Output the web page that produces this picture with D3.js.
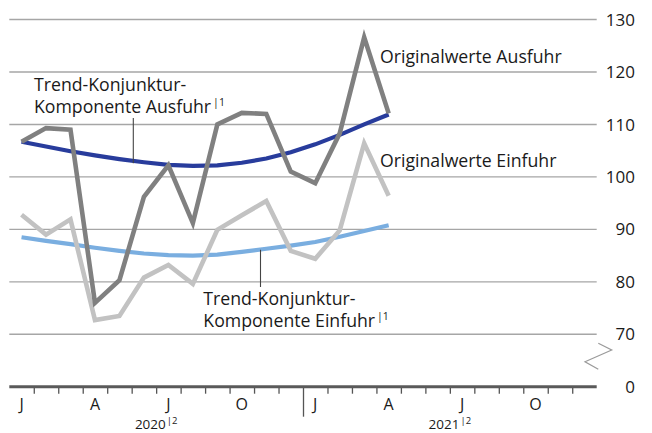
<!DOCTYPE html>
<html><head><meta charset="utf-8">
<script src="https://cdn.jsdelivr.net/npm/d3@7"></script>
<style>
html,body{margin:0;padding:0;background:#fff;}
svg{display:block;}
text{font-family:"Open Sans",sans-serif;fill:#1a1a1a;}
</style></head>
<body><svg id="c" width="652" height="433"></svg>
<script>
// ---- data (Jan 2020 .. Apr 2021) ----
const monthIndex = d3.range(16);
const ausfuhrOriginal = [106.7,109.3,109.0,76.0,80.3,96.2,102.2,91.2,110.0,112.2,112.0,101.0,98.8,108.3,126.6,112.1];
const einfuhrOriginal = [92.8,89.0,91.9,72.7,73.5,80.8,83.2,79.6,89.9,92.7,95.4,85.9,84.4,89.8,106.4,96.4];
const ausfuhrTrend = [106.7,105.8,104.9,104.1,103.4,102.8,102.3,102.1,102.2,102.7,103.5,104.7,106.2,108.0,110.0,111.9];
const einfuhrTrend = [88.5,87.8,87.2,86.5,85.9,85.4,85.1,85.0,85.2,85.7,86.3,86.9,87.6,88.6,89.7,90.8];
const yTicks = [70,80,90,100,110,120,130];
const monthLabels = ["J","A","J","O","J","A","J","O"];
const monthLabelPos = [0,3,6,9,12,15,18,21];
const years = ["2020","2021"];
const totalMonths = 24;

const svg = d3.select("#c");
const x = d3.scaleLinear().domain([0,totalMonths]).range([9.3,596.7]);
const y = d3.scaleLinear().domain([70,130]).range([334.3,19.5]);
const baseY = 386.7;
const FS = 17.7;

// gridlines
svg.append("g").selectAll("line").data(yTicks).join("line")
  .attr("x1",x(0)).attr("x2",x(totalMonths))
  .attr("y1",d=>y(d)).attr("y2",d=>y(d))
  .attr("stroke","#a6a6a6").attr("stroke-width",1.4);

// y labels
const yl = svg.append("g");
yl.selectAll("text").data(yTicks).join("text")
  .attr("x",635).attr("y",d=>y(d)).attr("dy","0.36em")
  .attr("text-anchor","end").attr("font-size",17).text(d=>d);
yl.append("text").attr("x",635).attr("y",baseY).attr("dy","0.36em")
  .attr("text-anchor","end").attr("font-size",17).text("0");

// axis break
svg.append("polyline")
  .attr("points",[[598.3,343.3],[611.7,350],[585,361.7],[598.3,369.3]].map(p=>p.join(",")).join(" "))
  .attr("fill","none").attr("stroke","#9a9a9a").attr("stroke-width",1.2);

// x axis ticks
const xAxis = d3.axisBottom(x).tickValues(d3.range(1,totalMonths)).tickSize(7).tickFormat("").tickSizeOuter(0);
const gx = svg.append("g").attr("transform",`translate(0,${baseY})`).call(xAxis);
gx.select(".domain").remove();
gx.selectAll(".tick line").attr("stroke","#555").attr("stroke-width",1.3)
  .attr("y2",d=>d===12?30:7);
svg.append("line").attr("x1",x(0)).attr("x2",x(totalMonths)).attr("y1",baseY).attr("y2",baseY)
  .attr("stroke","#5a5a5a").attr("stroke-width",3);

// month labels
svg.append("g").selectAll("text").data(monthLabels).join("text")
  .attr("x",(d,i)=>x(monthLabelPos[i]+0.5)).attr("y",410)
  .attr("text-anchor","middle").attr("font-size",16).text(d=>d);
// year labels
const yt = svg.append("g").selectAll("text").data(years).join("text")
  .attr("x",(d,i)=>x(i*12+6)).attr("y",429)
  .attr("text-anchor","middle").attr("font-size",13.5);
yt.append("tspan").text(d=>d);
yt.append("tspan").attr("font-size",9.5).attr("dy",-5).attr("dx",1).text("|2");

// lines
const line = d3.line().x((d,i)=>x(monthIndex[i]+0.5)).y(d=>y(d));
function draw(data,color,w){
  svg.append("path").datum(data).attr("d",line).attr("fill","none")
    .attr("stroke",color).attr("stroke-width",w).attr("stroke-linejoin","miter").attr("stroke-miterlimit",10);
}
draw(einfuhrTrend,"#7aaee0",4.2);
draw(ausfuhrTrend,"#283c9c",4.2);
draw(einfuhrOriginal,"#c2c2c2",4.6);
draw(ausfuhrOriginal,"#808080",4.6);

// annotations
function label(xp,yp,lines,sup){
  const t = svg.append("text").attr("x",xp).attr("y",yp).attr("font-size",FS);
  lines.forEach((l,i)=>{
    t.append("tspan").attr("x",xp).attr("dy",i===0?0:22.3).text(l);
  });
  if(sup){
    t.append("tspan").attr("font-size",10.5).attr("dy",-7).attr("dx",2).text(sup);
  }
}
label(34,90.7,["Trend-Konjunktur-","Komponente Ausfuhr"],"|1");
label(203.3,305,["Trend-Konjunktur-","Komponente Einfuhr"],"|1");
label(380,62.5,["Originalwerte Ausfuhr"]);
label(380,166.5,["Originalwerte Einfuhr"]);

// leaders
svg.append("line").attr("x1",133.3).attr("x2",133.3).attr("y1",118).attr("y2",y(ausfuhrTrend[5])+1)
  .attr("stroke","#444").attr("stroke-width",1.1);
svg.append("line").attr("x1",260.5).attr("x2",260.5).attr("y1",y(einfuhrTrend[10])+1).attr("y2",287)
  .attr("stroke","#444").attr("stroke-width",1.1);
</script></body></html>
